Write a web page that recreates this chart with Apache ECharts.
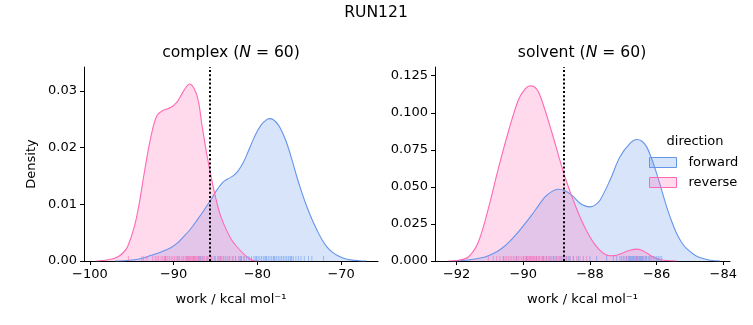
<!DOCTYPE html>
<html><head><meta charset="utf-8">
<script src="https://cdn.jsdelivr.net/npm/echarts@6/dist/echarts.min.js"></script>
<style>html,body{margin:0;padding:0;background:#fff}#c{width:753px;height:325px}</style>
</head><body><div id="c"></div>
<script>
// ---------- data ----------
const complexReverseX = [-99.2,-98.5,-97.5,-96.7,-96.0,-95.5,-94.7,-94.1,-93.5,-92.7,-92.0,-91.2,-90.4,-89.6,-88.8,-88.1,-87.2,-86.6,-86.0,-85.2,-84.4,-83.2,-82.5,-81.3,-80.5,-79.8];
const complexReverseY = [0,0.0001,0.0003,0.0007,0.0015,0.0025,0.006,0.0102,0.0156,0.022,0.0256,0.0266,0.0270,0.0280,0.0300,0.0312,0.0291,0.0238,0.0185,0.0126,0.0080,0.0040,0.0026,0.0008,0.0001,0];
const complexForwardX = [-97,-95.5,-94,-92.7,-91.5,-90.4,-89.6,-88.8,-88.0,-87.2,-86.4,-85.6,-84.8,-84.1,-83.5,-82.9,-82.3,-81.7,-81.1,-80.5,-80.0,-79.5,-79.0,-78.6,-78.1,-77.5,-77.0,-76.5,-75.9,-75.3,-74.7,-74.1,-73.5,-72.9,-72.3,-71.7,-71.1,-70.5,-69.7,-68.9,-67.9,-67.0];
const complexForwardY = [0,0.0001,0.0004,0.0010,0.0016,0.0023,0.0031,0.0043,0.0056,0.0072,0.0089,0.0107,0.0126,0.0139,0.0145,0.0150,0.0159,0.0173,0.0193,0.0214,0.0229,0.0241,0.0248,0.0251,0.0249,0.0240,0.0226,0.0208,0.0180,0.0149,0.0121,0.0096,0.0074,0.0055,0.0038,0.0025,0.0016,0.0010,0.0005,0.0002,0.00005,0];
const solventReverseX = [-92.25,-91.95,-91.65,-91.35,-91.05,-90.75,-90.45,-90.15,-89.95,-89.78,-89.6,-89.45,-89.15,-88.8,-88.6,-88.45,-88.3,-88.15,-88.0,-87.85,-87.7,-87.55,-87.4,-87.25,-87.1,-86.95,-86.8,-86.6,-86.45,-86.3,-86.15,-86.0,-85.85,-85.7,-85.4];
const solventReverseY = [0,0.0005,0.0027,0.0128,0.0354,0.0624,0.0872,0.1086,0.1160,0.1182,0.1160,0.1086,0.0872,0.0601,0.0470,0.0380,0.0297,0.0225,0.0162,0.0110,0.0072,0.0045,0.0035,0.0036,0.0047,0.0061,0.0073,0.0080,0.0072,0.0054,0.0033,0.0016,0.0007,0.0003,0];
const solventForwardX = [-92.1,-91.6,-91.15,-90.9,-90.65,-90.4,-90.15,-89.95,-89.75,-89.55,-89.35,-89.15,-88.95,-88.75,-88.55,-88.3,-88.15,-88.0,-87.85,-87.7,-87.4,-87.1,-86.8,-86.6,-86.45,-86.3,-86.15,-86.0,-85.85,-85.7,-85.55,-85.4,-85.25,-85.1,-84.8,-84.4,-84.1];
const solventForwardY = [0,0.0008,0.0027,0.0050,0.0084,0.0134,0.0196,0.0252,0.0309,0.0372,0.0432,0.0468,0.0484,0.0474,0.0444,0.0390,0.0372,0.0365,0.0377,0.0410,0.0545,0.0703,0.0793,0.0820,0.0810,0.0770,0.0690,0.0590,0.0478,0.0365,0.0268,0.0185,0.0125,0.0084,0.0032,0.0005,0];

const complexReverseRug = [-95.4,-93.8,-93.6,-93.2,-92.5,-92.2,-92.0,-91.8,-91.5,-91.3,-91.1,-91.0,-90.9,-90.7,-90.5,-90.3,-90.1,-89.9,-89.7,-89.5,-89.3,-89.1,-88.9,-88.8,-88.6,-88.5,-88.4,-88.3,-88.2,-88.1,-88.0,-87.9,-87.8,-87.7,-87.6,-87.5,-87.4,-87.3,-87.2,-87.1,-87.0,-86.9,-86.7,-86.5,-86.3,-86.1,-85.9,-85.6,-85.3,-85.0,-84.7,-84.4,-84.1,-83.8,-83.4,-83.0,-82.6,-82.2,-81.9,-81.6];
const complexForwardRug = [-91.0,-89.5,-88.3,-87.6,-87.0,-86.8,-86.5,-86.0,-85.5,-85.1,-84.7,-84.5,-84.3,-84.0,-83.6,-83.3,-82.9,-82.6,-82.2,-82.0,-81.9,-81.6,-81.3,-81.0,-80.7,-80.4,-80.2,-80.1,-79.9,-79.7,-79.5,-79.3,-79.1,-79.0,-78.9,-78.7,-78.5,-78.3,-78.1,-78.0,-77.9,-77.7,-77.5,-77.3,-77.1,-76.9,-76.7,-76.5,-76.3,-76.1,-76.0,-75.9,-75.7,-75.4,-75.1,-74.8,-74.4,-73.9,-73.5,-72.1];
const solventReverseRug = [-91.05,-90.9,-90.8,-90.7,-90.6,-90.55,-90.5,-90.45,-90.4,-90.35,-90.3,-90.25,-90.2,-90.15,-90.1,-90.05,-90.0,-90.0,-89.95,-89.92,-89.9,-89.88,-89.85,-89.82,-89.8,-89.78,-89.75,-89.72,-89.7,-89.68,-89.65,-89.62,-89.6,-89.55,-89.52,-89.5,-89.45,-89.42,-89.4,-89.35,-89.3,-89.25,-89.2,-89.15,-89.1,-89.0,-88.95,-88.9,-88.8,-88.75,-88.7,-88.6,-88.5,-88.4,-88.3,-88.1,-86.9,-86.6,-86.45,-86.2];
const solventForwardRug = [-90.6,-90.2,-89.9,-89.6,-89.4,-89.3,-89.2,-89.1,-89.05,-89.0,-88.9,-88.85,-88.8,-88.7,-88.65,-88.6,-88.5,-88.35,-88.2,-88.0,-87.8,-87.5,-87.3,-87.2,-87.1,-87.05,-87.0,-86.95,-86.9,-86.85,-86.82,-86.8,-86.78,-86.75,-86.72,-86.7,-86.68,-86.65,-86.62,-86.6,-86.58,-86.55,-86.52,-86.5,-86.48,-86.45,-86.42,-86.4,-86.35,-86.32,-86.3,-86.25,-86.2,-86.15,-86.1,-86.05,-86.0,-85.95,-85.9,-85.85];

const meanLines = [-85.66, -88.78];
const titles = ['complex', 'solvent'];
const sampleCounts = [60, 60];
const seriesNames = ['forward', 'reverse'];
const xTicks = [[-100,-90,-80,-70], [-92,-90,-88,-86,-84]];
const yTicks = [[0,0.01,0.02,0.03], [0,0.025,0.05,0.075,0.1,0.125]];
const xRanges = [[-100.7,-65.6], [-92.65,-83.8]];
const yRanges = [[0,0.0342], [0,0.1309]];

// ---------- chart ----------
const FONT = 'DejaVu Sans';
const BLUE = '#6495ED', PINK = '#FF69B4';
const zip = (xs, ys) => xs.map((x, i) => [x, ys[i]]);
const rug = xs => xs.map(x => [x, 0]);
const fmtX = v => (v < 0 ? '\u2212' : '') + Math.abs(v);

const chart = echarts.init(document.getElementById('c'), null, {renderer: 'canvas'});

function xAxis(i) {
  return {
    type: 'value', gridIndex: i, min: xRanges[i][0], max: xRanges[i][1],
    name: 'work / kcal mol\u207B\u00B9', nameLocation: 'middle', nameGap: 32,
    nameTextStyle: {fontFamily: FONT, fontSize: 13, color: '#000'},
    axisLine: {show: true, onZero: false, lineStyle: {color: '#000', width: 1}},
    axisTick: {show: true, length: 4, lineStyle: {color: '#000', width: 1}, customValues: xTicks[i]},
    axisLabel: {fontFamily: FONT, fontSize: 13, color: '#000', margin: 7, formatter: fmtX, customValues: xTicks[i]},
    splitLine: {show: false}
  };
}
function yAxis(i) {
  const dec = i === 0 ? 2 : 3;
  return {
    type: 'value', gridIndex: i, min: yRanges[i][0], max: yRanges[i][1],
    name: i === 0 ? 'Density' : '', nameLocation: 'middle', nameGap: 46,
    nameTextStyle: {fontFamily: FONT, fontSize: 13, color: '#000'},
    axisLine: {show: true, lineStyle: {color: '#000', width: 1}},
    axisTick: {show: true, length: 4, lineStyle: {color: '#000', width: 1}, customValues: yTicks[i]},
    axisLabel: {fontFamily: FONT, fontSize: 13, color: '#000', margin: 7, formatter: v => v.toFixed(dec), customValues: yTicks[i]},
    splitLine: {show: false}
  };
}
function kde(name, i, xs, ys, color, mark) {
  const s = {
    type: 'line', name, xAxisIndex: i, yAxisIndex: i, data: zip(xs, ys),
    smooth: 0.35, showSymbol: false, symbol: 'none',
    lineStyle: {color, width: 1.1}, itemStyle: {color},
    areaStyle: {color, opacity: 0.25}, z: 2, silent: true
  };
  if (mark !== undefined) {
    s.markLine = {
      silent: true, symbol: ['none', 'none'], label: {show: false},
      lineStyle: {color: '#000', type: [2, 2.2], width: 2},
      data: [{xAxis: mark}], z: 5
    };
  }
  return s;
}
function rugSeries(name, i, xs, color) {
  return {
    type: 'scatter', name, xAxisIndex: i, yAxisIndex: i, data: rug(xs),
    symbol: 'rect', symbolSize: [1, 5], symbolOffset: [0, -2.5],
    itemStyle: {color}, clip: false, silent: true, z: 3
  };
}

const titleText = (i) => titles[i] + ' ({i|N} = ' + sampleCounts[i] + ')';

chart.setOption({
  animation: false,
  backgroundColor: '#fff',
  title: [
    {text: 'RUN121', left: 376, top: 5, textAlign: 'center', padding: 0,
     textStyle: {fontFamily: FONT, fontSize: 15.6, fontWeight: 'normal', color: '#000'}},
    {text: titleText(0), left: 231, top: 45, textAlign: 'center', padding: 0,
     textStyle: {fontFamily: FONT, fontSize: 15.6, fontWeight: 'normal', color: '#000',
       rich: {i: {fontFamily: FONT, fontSize: 15.6, fontStyle: 'italic', color: '#000'}}}},
    {text: titleText(1), left: 582, top: 45, textAlign: 'center', padding: 0,
     textStyle: {fontFamily: FONT, fontSize: 15.6, fontWeight: 'normal', color: '#000',
       rich: {i: {fontFamily: FONT, fontSize: 15.6, fontStyle: 'italic', color: '#000'}}}},
    {text: 'direction', left: 695, top: 135, textAlign: 'center', padding: 0,
     textStyle: {fontFamily: FONT, fontSize: 13, fontWeight: 'normal', color: '#000'}}
  ],
  legend: {
    data: [
      {name: seriesNames[0], icon: 'rect', itemStyle: {color: 'rgba(100,149,237,0.25)', borderColor: BLUE, borderWidth: 1}},
      {name: seriesNames[1], icon: 'rect', itemStyle: {color: 'rgba(255,105,180,0.25)', borderColor: PINK, borderWidth: 1}}
    ],
    orient: 'vertical', left: 649, top: 156, itemWidth: 27, itemHeight: 10, itemGap: 7, padding: 0,
    selectedMode: false,
    textStyle: {fontFamily: FONT, fontSize: 13, color: '#000', padding: [0, 0, 0, 7]}
  },
  grid: [
    {left: 84, top: 67, width: 294, height: 194},
    {left: 435, top: 67, width: 295, height: 194}
  ],
  xAxis: [xAxis(0), xAxis(1)],
  yAxis: [yAxis(0), yAxis(1)],
  series: [
    kde(seriesNames[0], 0, complexForwardX, complexForwardY, BLUE),
    kde(seriesNames[1], 0, complexReverseX, complexReverseY, PINK, meanLines[0]),
    rugSeries('forward rug', 0, complexForwardRug, 'rgba(100,149,237,0.7)'),
    rugSeries('reverse rug', 0, complexReverseRug, 'rgba(255,105,180,0.7)'),
    kde(seriesNames[0], 1, solventForwardX, solventForwardY, BLUE),
    kde(seriesNames[1], 1, solventReverseX, solventReverseY, PINK, meanLines[1]),
    rugSeries('forward rug', 1, solventForwardRug, 'rgba(100,149,237,0.7)'),
    rugSeries('reverse rug', 1, solventReverseRug, 'rgba(255,105,180,0.7)')
  ]
});
</script>
</body></html>
